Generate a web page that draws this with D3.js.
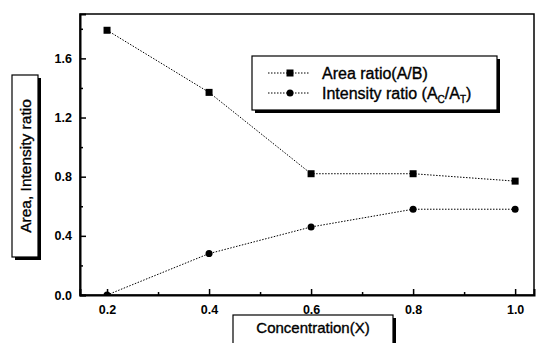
<!DOCTYPE html>
<html>
<head>
<meta charset="utf-8">
<script src="https://cdn.jsdelivr.net/npm/d3@7"></script>
<style>
  body { margin: 0; background: #fff; }
  svg { display: block; font-family: 'Liberation Sans', Arial, sans-serif; }
</style>
</head>
<body>
<svg id="chart" width="538" height="343"></svg>
<script>
// data
const concentration = [0.2, 0.4, 0.6, 0.8, 1.0]
const areaRatio = [1.79, 1.37, 0.82, 0.82, 0.77]
const intensityRatio = [0.0, 0.28, 0.46, 0.58, 0.58]
const xTicks = [0.2, 0.4, 0.6, 0.8, 1.0]
const xMinorTicks = [0.3, 0.5, 0.7, 0.9]
const yTicks = [0.0, 0.4, 0.8, 1.2, 1.6]
const yMinorTicks = [0.2, 0.6, 1.0, 1.4, 1.8]
const seriesNames = ['Area ratio(A/B)', 'Intensity ratio']

const svg = d3.select('#chart')
const margin = { top: 14, right: 4, bottom: 48, left: 80 }
const width = 538 - margin.left - margin.right
const height = 343 - margin.top - margin.bottom

const x = d3.scaleLinear().domain([0.147, 1.037]).range([0, width])
const y = d3.scaleLinear().domain([0, 1.9]).range([height, 0])

const g = svg.append('g').attr('transform', `translate(${margin.left},${margin.top})`)

g.append('clipPath').attr('id', 'clip')
  .append('rect').attr('width', width).attr('height', height)

// frame
g.append('rect')
  .attr('width', width).attr('height', height)
  .attr('fill', 'none').attr('stroke', '#000').attr('stroke-width', 1.5)

// axes with inward ticks
g.append('g').attr('transform', `translate(0,${height})`)
  .call(d3.axisBottom(x).tickValues(xTicks).tickSize(-6).tickPadding(10).tickFormat(d3.format('.1f')))
g.append('g').attr('transform', `translate(0,${height})`)
  .call(d3.axisBottom(x).tickValues(xMinorTicks).tickSize(-3).tickFormat(''))
  .call(a => a.select('.domain').remove())

g.append('g')
  .call(d3.axisLeft(y).tickValues(yTicks).tickSize(-6).tickPadding(8).tickFormat(d3.format('.1f')))
g.append('g')
  .call(d3.axisLeft(y).tickValues(yMinorTicks).tickSize(-3).tickFormat(''))
  .call(a => a.select('.domain').remove())

g.selectAll('.domain').attr('stroke-width', 2)
g.selectAll('.tick line').attr('stroke-width', 1.5)
g.selectAll('.tick text')
  .attr('font-size', 12.5).attr('font-weight', 'bold')
  .attr('font-family', "'Liberation Sans', Arial, sans-serif")

// series
const line = d3.line().x(d => x(d[0])).y(d => y(d[1]))
const areaData = concentration.map((c, i) => [c, areaRatio[i]])
const intData = concentration.map((c, i) => [c, intensityRatio[i]])

const plot = g.append('g').attr('clip-path', 'url(#clip)')
plot.append('path').datum(areaData).attr('d', line)
  .attr('fill', 'none').attr('stroke', '#000').attr('stroke-width', 1)
  .attr('stroke-dasharray', '1.5,1.5')
plot.append('path').datum(intData).attr('d', line)
  .attr('fill', 'none').attr('stroke', '#000').attr('stroke-width', 1)
  .attr('stroke-dasharray', '1.5,1.5')

plot.selectAll('.sq').data(areaData).enter().append('rect')
  .attr('x', d => x(d[0]) - 3.5).attr('y', d => y(d[1]) - 3.5)
  .attr('width', 7).attr('height', 7).attr('fill', '#000')
plot.selectAll('.ci').data(intData).enter().append('circle')
  .attr('cx', d => x(d[0])).attr('cy', d => y(d[1])).attr('r', 3.5).attr('fill', '#000')

// legend box with shadow
const lg = svg.append('g').attr('transform', 'translate(252,56)')
lg.append('rect').attr('x', 3).attr('y', 3).attr('width', 245).attr('height', 54).attr('fill', '#000')
lg.append('rect').attr('width', 245).attr('height', 54).attr('fill', '#fff')
  .attr('stroke', '#000').attr('stroke-width', 1.2)

const rows = [{ y: 17, mark: 'sq' }, { y: 37, mark: 'ci' }]
rows.forEach(r => {
  lg.append('line').attr('x1', 16).attr('x2', 58).attr('y1', r.y).attr('y2', r.y)
    .attr('stroke', '#000').attr('stroke-width', 1).attr('stroke-dasharray', '1.5,1.5')
  if (r.mark === 'sq') {
    lg.append('rect').attr('x', 34.5).attr('y', r.y - 3.5).attr('width', 7).attr('height', 7).attr('fill', '#000')
  } else {
    lg.append('circle').attr('cx', 38).attr('cy', r.y).attr('r', 3.5).attr('fill', '#000')
  }
})
const heavy = sel => sel.attr('stroke', '#000').attr('stroke-width', 0.35)
heavy(lg.append('text').attr('x', 70).attr('y', 23).attr('font-size', 16).text(seriesNames[0]))
const t2 = heavy(lg.append('text').attr('x', 70).attr('y', 43).attr('font-size', 16))
t2.append('tspan').text(seriesNames[1] + ' (A')
t2.append('tspan').attr('font-size', 10).attr('dy', 4).text('C')
t2.append('tspan').attr('dy', -4).text('/A')
t2.append('tspan').attr('font-size', 10).attr('dy', 4).text('T')
t2.append('tspan').attr('dy', -4).text(')')

// y axis title box
const yl = svg.append('g').attr('transform', 'translate(12,75)')
yl.append('rect').attr('x', 3).attr('y', 3).attr('width', 26).attr('height', 182).attr('fill', '#000')
yl.append('rect').attr('width', 26).attr('height', 182).attr('fill', '#fff')
  .attr('stroke', '#000').attr('stroke-width', 1.2)
heavy(yl.append('text').attr('transform', 'translate(18.5,91) rotate(-90)')
  .attr('text-anchor', 'middle').attr('font-size', 15.5).text('Area, Intensity ratio'))

// x axis title box
const xl = svg.append('g').attr('transform', 'translate(233,315)')
xl.append('rect').attr('x', 3).attr('y', 3).attr('width', 160).attr('height', 30).attr('fill', '#000')
xl.append('rect').attr('width', 160).attr('height', 30).attr('fill', '#fff')
  .attr('stroke', '#000').attr('stroke-width', 1.2)
heavy(xl.append('text').attr('x', 80).attr('y', 18).attr('text-anchor', 'middle')
  .attr('font-size', 15).text('Concentration(X)'))
</script>
</body>
</html>
